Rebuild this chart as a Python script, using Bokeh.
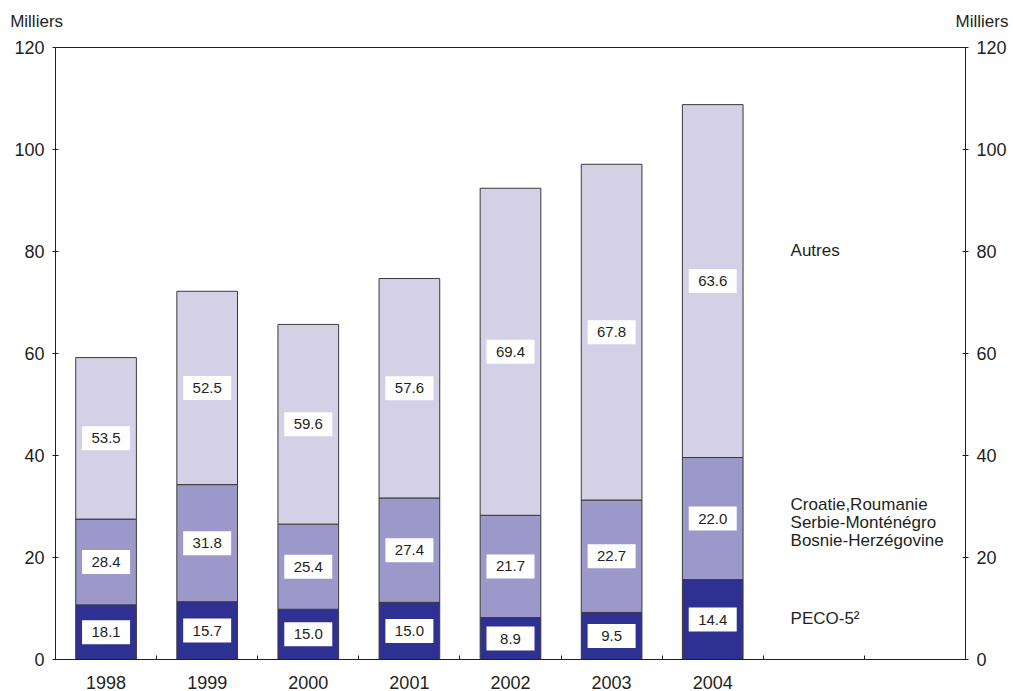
import numpy as np
from bokeh.plotting import figure
from bokeh.models import ColumnDataSource, LinearAxis, FixedTicker, Label, Range1d
from bokeh.core.properties import value
from bokeh.embed import file_html
from bokeh.resources import INLINE

# ---------------- data ----------------
years = ["1998", "1999", "2000", "2001", "2002", "2003", "2004"]
totals = [59.2, 72.2, 65.7, 74.7, 92.4, 97.1, 108.8]          # thousands
peco5_pct = [18.1, 15.7, 15.0, 15.0, 8.9, 9.5, 14.4]           # % of total
balkans_pct = [28.4, 31.8, 25.4, 27.4, 21.7, 22.7, 22.0]       # % of total
autres_pct = [53.5, 52.5, 59.6, 57.6, 69.4, 67.8, 63.6]        # % of total
y_ticks = [0, 20, 40, 60, 80, 100, 120]
name_peco = "PECO-5²"
name_balkans = ["Croatie,Roumanie", "Serbie-Monténégro", "Bosnie-Herzégovine"]
name_autres = "Autres"
unit_label = "Milliers"

FONT = "Liberation Sans"
INK = "#231F20"
C_DARK = "#2E3192"
C_MID = "#9C98CA"
C_LIGHT = "#D4D1E7"
N_SLOTS = 9
NB = "\u00a0"

# ---------------- derived ----------------
xc = np.arange(len(years)) + 0.5
tot = np.array(totals)
peco = tot * np.array(peco5_pct) / 100.0
bal = tot * np.array(balkans_pct) / 100.0
b1 = peco
b2 = peco + bal
b3 = tot

p = figure(width=1013, height=691, x_range=Range1d(0, N_SLOTS), y_range=Range1d(0, 120),
           output_backend="svg", toolbar_location=None,
           x_axis_type=None, y_axis_type=None,
           min_border_left=55, min_border_right=48, min_border_top=47, min_border_bottom=32)
p.outline_line_color = INK
p.outline_line_width = 1
p.background_fill_color = "white"
p.border_fill_color = "white"

# y axes (left and right)
def yaxis():
    ax = LinearAxis(ticker=FixedTicker(ticks=y_ticks))
    ax.major_label_text_font = FONT
    ax.major_label_text_font_size = "18px"
    ax.major_label_text_color = INK
    ax.major_tick_in = 3
    ax.major_tick_out = 3
    ax.minor_tick_in = 0
    ax.minor_tick_out = 0
    ax.major_tick_line_color = INK
    ax.axis_line_color = INK
    ax.major_label_standoff = 8
    return ax

p.add_layout(yaxis(), "left")
p.add_layout(yaxis(), "right")

# x axis: year labels at bar centres, small inward ticks at slot boundaries
xax = LinearAxis(ticker=FixedTicker(ticks=list(xc), minor_ticks=list(range(1, N_SLOTS))))
xax.major_label_overrides = {float(x): yr for x, yr in zip(xc, years)}
xax.major_label_text_font = FONT
xax.major_label_text_font_size = "18px"
xax.major_label_text_color = INK
xax.major_label_standoff = 16
xax.major_tick_in = 0
xax.major_tick_out = 0
xax.minor_tick_in = 4
xax.minor_tick_out = 0
xax.minor_tick_line_color = INK
xax.axis_line_color = INK
p.add_layout(xax, "below")

# top axis carrying the unit label above each y axis
tax = LinearAxis(ticker=FixedTicker(ticks=[0, N_SLOTS]))
tax.major_label_overrides = {0: unit_label + NB * 8, N_SLOTS: NB * 7 + unit_label}
tax.major_label_text_font = FONT
tax.major_label_text_font_size = "17px"
tax.major_label_text_color = INK
tax.major_label_standoff = 17
tax.major_tick_in = 0
tax.major_tick_out = 0
tax.minor_tick_in = 0
tax.minor_tick_out = 0
tax.axis_line_color = INK
p.add_layout(tax, "above")

# bars
src = ColumnDataSource(dict(x=xc, b0=np.zeros_like(tot), b1=b1, b2=b2, b3=b3))
p.vbar(x="x", width=0.6, bottom="b0", top="b1", source=src, fill_color=C_DARK, line_color="#3A3A3A", line_width=1)
p.vbar(x="x", width=0.6, bottom="b1", top="b2", source=src, fill_color=C_MID, line_color="#3A3A3A", line_width=1)
p.vbar(x="x", width=0.6, bottom="b2", top="b3", source=src, fill_color=C_LIGHT, line_color="#3A3A3A", line_width=1)

# value labels (percent shares) centred in each segment
lx, ly, lt = [], [], []
for i in range(len(years)):
    lx += [xc[i]] * 3
    ly += [b1[i] / 2, (b1[i] + b2[i]) / 2, (b2[i] + b3[i]) / 2]
    lt += [f"{peco5_pct[i]:.1f}", f"{balkans_pct[i]:.1f}", f"{autres_pct[i]:.1f}"]
lsrc = ColumnDataSource(dict(x=lx, y=ly, t=lt))
p.rect(x="x", y="y", width=48, height=24, width_units="screen", height_units="screen",
       source=lsrc, fill_color="white", line_color=None)
p.text(x="x", y="y", text="t", source=lsrc, text_align="center", text_baseline="middle",
       text_font=value(FONT), text_font_size="15px", text_color=INK)

# series names
LX = 7.27
p.add_layout(Label(x=LX, y=80.2, text=name_autres, text_baseline="middle",
                   text_font=FONT, text_font_size="17px", text_color=INK))
for j, line in enumerate(name_balkans):
    p.add_layout(Label(x=LX, y=30.4 - j * 3.53, text=line, text_baseline="middle",
                       text_font=FONT, text_font_size="17px", text_color=INK))
p.add_layout(Label(x=LX, y=8.0, text=name_peco, text_baseline="middle",
                   text_font=FONT, text_font_size="17px", text_color=INK))

open("out.html", "w").write(file_html(p, INLINE))
